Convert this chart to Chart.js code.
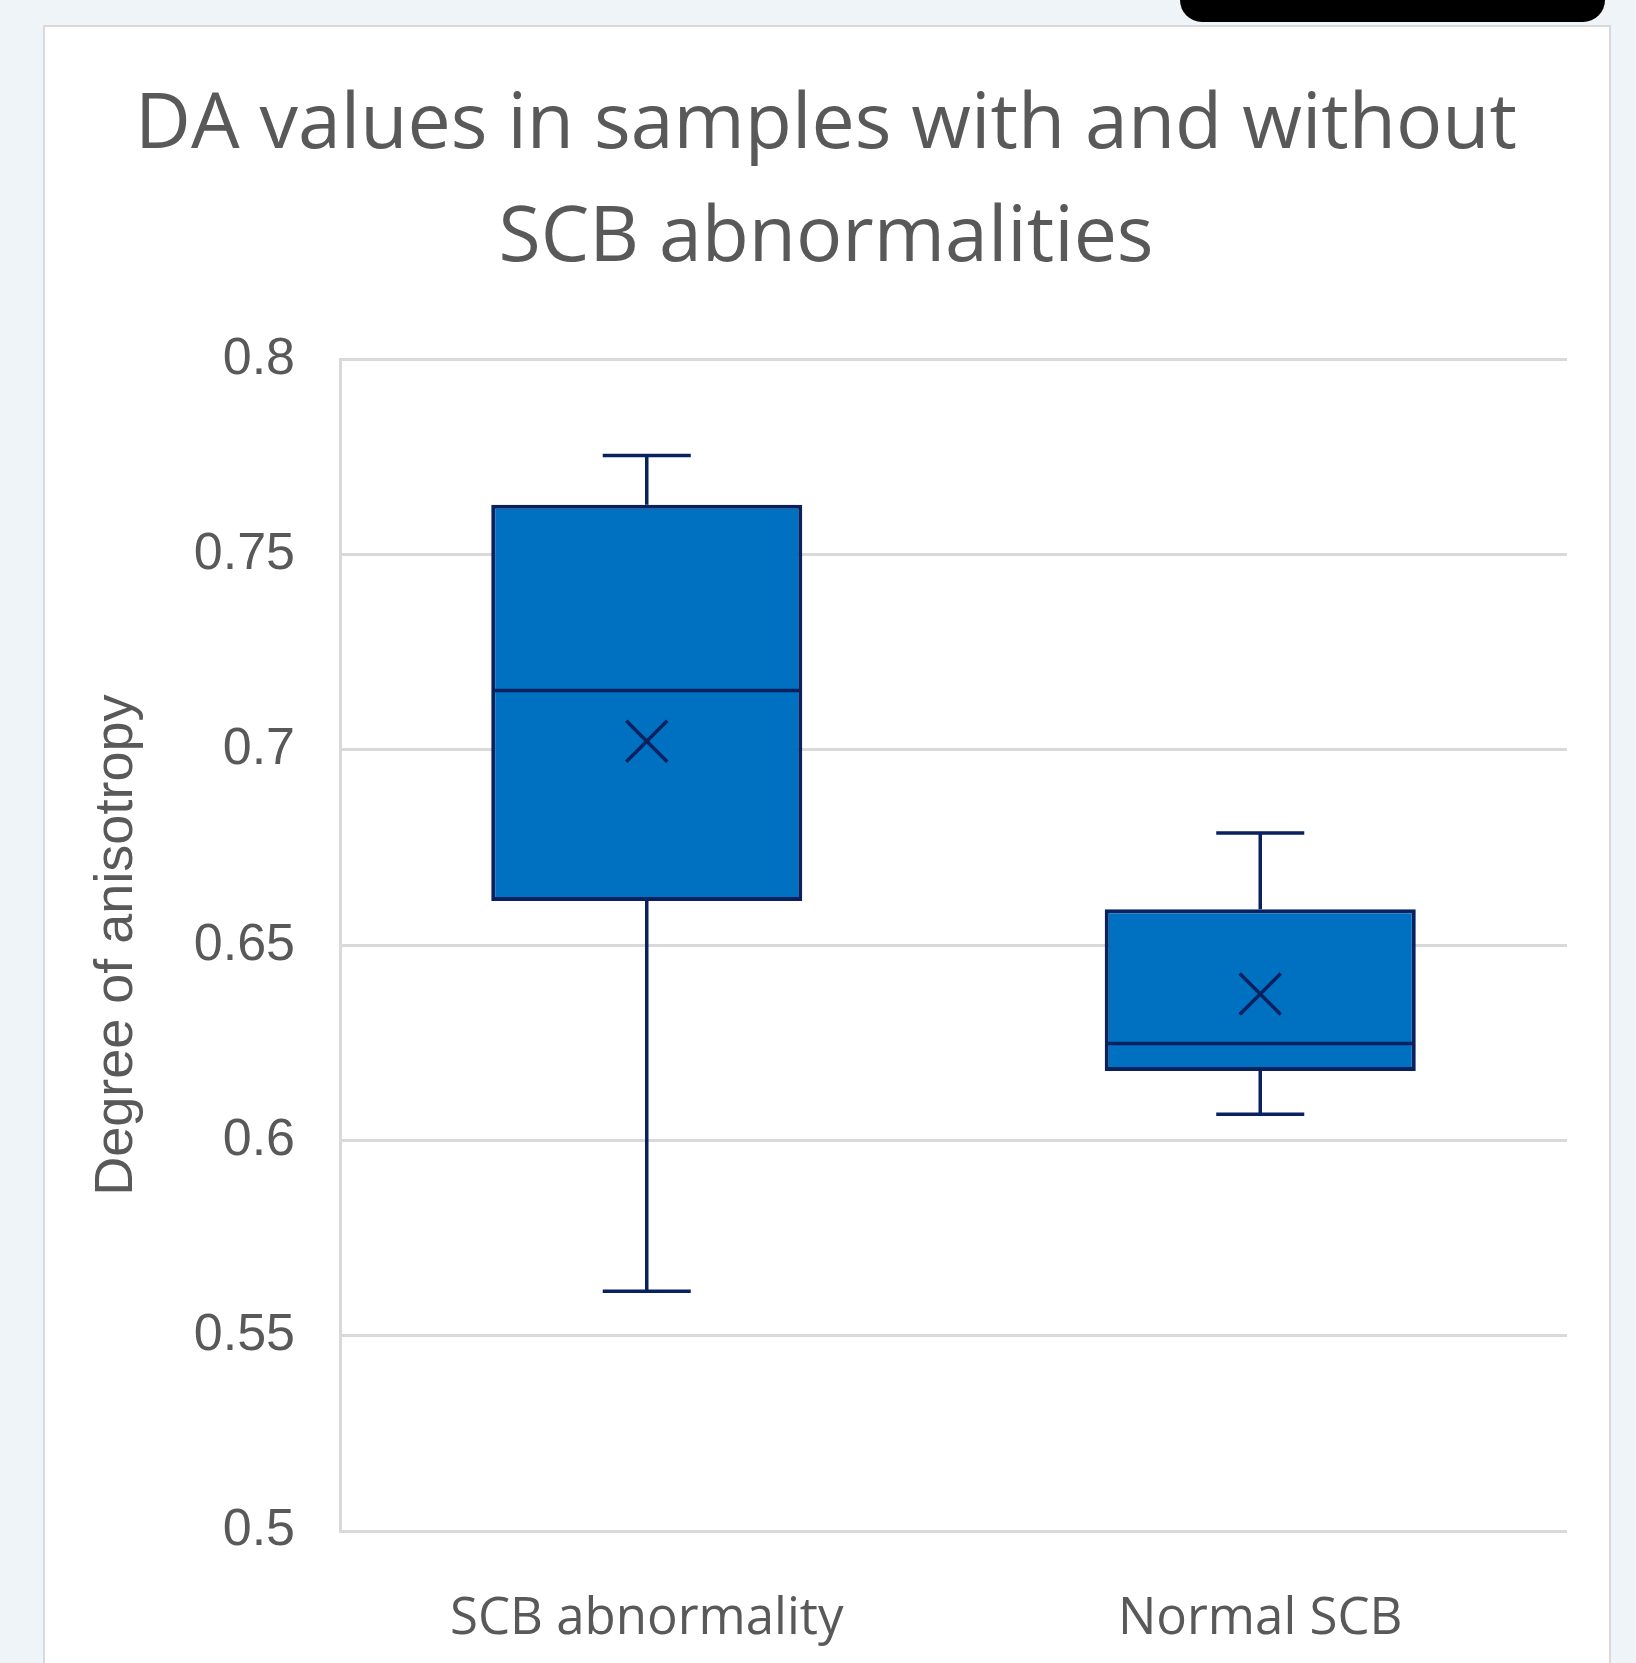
<!DOCTYPE html>
<html><head><meta charset="utf-8">
<script src="https://cdn.jsdelivr.net/npm/chart.js@4.4.1/dist/chart.umd.min.js"></script>
<style>
html,body{margin:0;padding:0;background:#EFF4F9;width:1636px;height:1663px;overflow:hidden;}
#card{position:absolute;left:43px;top:25px;width:1568px;height:1700px;background:#fff;border:2px solid #D9D9D9;box-sizing:border-box;}
#pill{position:absolute;left:1180px;top:-30px;width:425px;height:52px;background:#000;border-radius:22px;}
#wrap{position:absolute;left:0;top:0;width:1636px;height:1663px;}
</style></head><body>
<div id="card"></div><div id="pill"></div>
<div id="wrap"><canvas id="c" width="1636" height="1663"></canvas></div>
<script>
const categories = ['SCB abnormality', 'Normal SCB'];
const whiskerMin = [0.5614, 0.6067];
const q1 = [0.6613, 0.6178];
const median = [0.7152, 0.6248];
const q3 = [0.7628, 0.6592];
const whiskerMax = [0.7754, 0.6787];
const mean = [0.7022, 0.6375];
const yTickLabels = ['0.5', '0.55', '0.6', '0.65', '0.7', '0.75', '0.8'];
const titleLines = ['DA values in samples with and without', 'SCB abnormalities'];
const yAxisTitle = 'Degree of anisotropy';

const NAVY = '#0A2160';
const FILL = '#0070C0';
const TEXT = '#595959';
const GRID = '#D9D9D9';

const boxExtras = {
  id: 'boxExtras',
  afterDatasetsDraw(chart) {
    const {ctx, scales: {x, y}} = chart;
    const meta = chart.getDatasetMeta(0);
    ctx.save();
    ctx.strokeStyle = NAVY;
    ctx.lineWidth = 3.5;
    categories.forEach((c, i) => {
      const bar = meta.data[i];
      const cx = x.getPixelForValue(i);
      const half = bar.width / 2;
      const capHalf = bar.width * 0.1415;
      const py = v => y.getPixelForValue(v);
      ctx.beginPath();
      ctx.moveTo(cx - half + 1, py(median[i])); ctx.lineTo(cx + half - 1, py(median[i]));
      ctx.moveTo(cx, py(q3[i])); ctx.lineTo(cx, py(whiskerMax[i]));
      ctx.moveTo(cx - capHalf, py(whiskerMax[i])); ctx.lineTo(cx + capHalf, py(whiskerMax[i]));
      ctx.moveTo(cx, py(q1[i])); ctx.lineTo(cx, py(whiskerMin[i]));
      ctx.moveTo(cx - capHalf, py(whiskerMin[i])); ctx.lineTo(cx + capHalf, py(whiskerMin[i]));
      ctx.stroke();
    });
    ctx.restore();
  }
};

new Chart(document.getElementById('c'), {
  type: 'bar',
  data: {
    labels: categories,
    datasets: [
      {
        type: 'bar',
        data: categories.map((c, i) => [q1[i], q3[i]]),
        backgroundColor: FILL,
        borderColor: NAVY,
        borderWidth: 4,
        borderSkipped: false,
        barPercentage: 0.507,
        categoryPercentage: 1.0,
        order: 1
      },
      {
        type: 'line',
        data: mean,
        showLine: false,
        pointStyle: 'crossRot',
        pointRadius: 29,
        pointBorderWidth: 3.5,
        pointBorderColor: NAVY,
        pointBackgroundColor: 'rgba(0,0,0,0)',
        order: 0
      }
    ]
  },
  options: {
    responsive: false,
    animation: false,
    layout: {padding: {left: 85, right: 69, top: 0, bottom: 0}},
    plugins: {
      legend: {display: false},
      tooltip: {enabled: false},
      title: {
        display: true,
        text: titleLines,
        color: TEXT,
        font: {family: 'Open Sans', size: 77, weight: '500', lineHeight: 1.47},
        padding: {top: 69, bottom: 64}
      }
    },
    scales: {
      x: {
        grid: {display: false, drawTicks: false},
        border: {display: false},
        ticks: {color: TEXT, font: {family: 'Open Sans', size: 51}, padding: 58},
        afterFit(scale) { scale.height = 132; }
      },
      y: {
        min: 0.5, max: 0.8,
        grid: {color: GRID, lineWidth: 3, drawTicks: false},
        border: {display: true, color: GRID, width: 3},
        ticks: {
          stepSize: 0.05,
          color: TEXT,
          padding: 45,
          font: {family: 'Liberation Sans', size: 52},
          callback: (v, idx) => yTickLabels[idx]
        },
        title: {
          display: true,
          text: yAxisTitle,
          color: TEXT,
          font: {family: 'Liberation Sans', size: 54},
          padding: {top: 0, bottom: 0}
        },
        afterFit(scale) { scale.width = 255; }
      }
    }
  },
  plugins: [boxExtras]
});
</script>
</body></html>
